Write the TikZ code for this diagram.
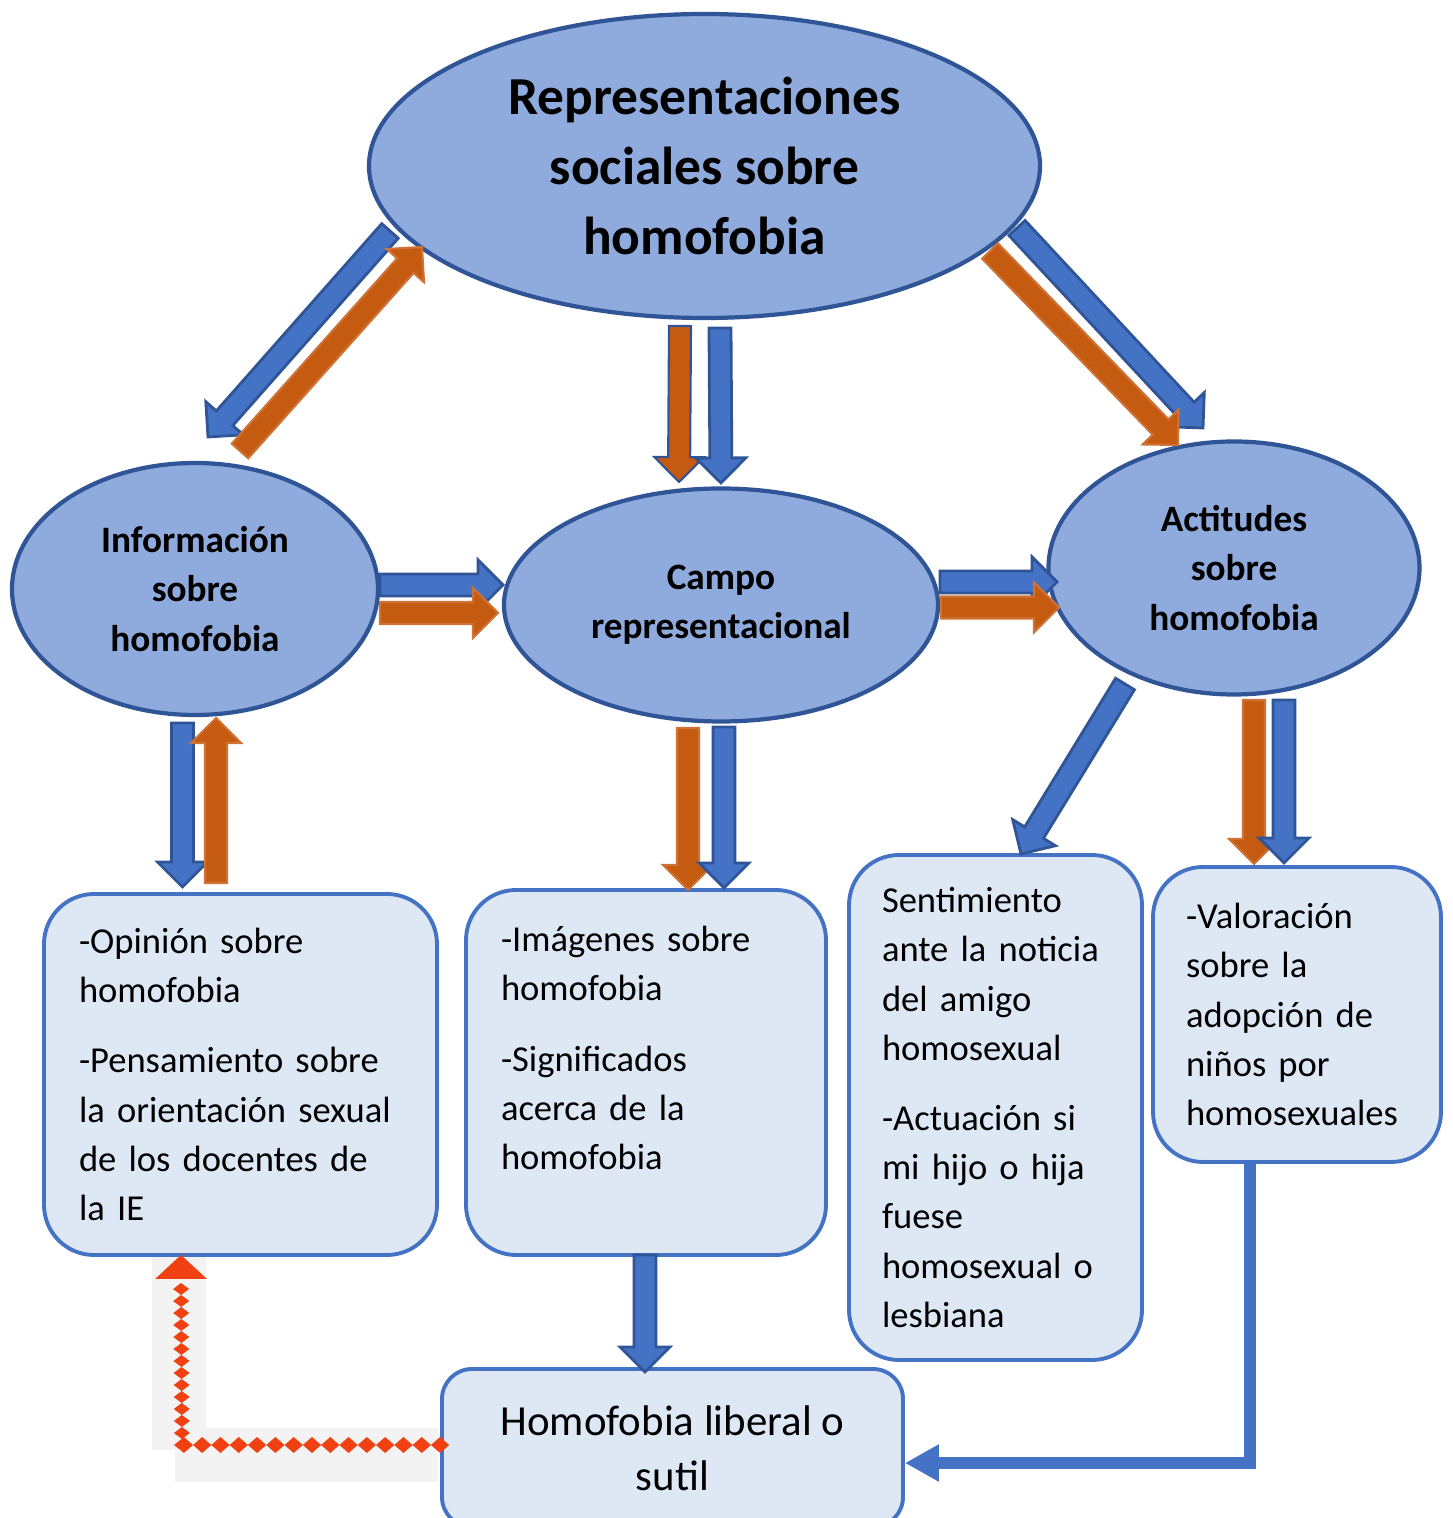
\documentclass[tikz,border=0pt]{standalone}
\usepackage{fontspec}
\setmainfont{Carlito}
\usetikzlibrary{calc,shapes.geometric,arrows.meta,decorations.markings}

\definecolor{elfill}{HTML}{8FAADC}
\definecolor{eldraw}{HTML}{2F5597}
\definecolor{boxfill}{HTML}{DEE8F5}
\definecolor{boxdraw}{HTML}{4472C4}
\definecolor{arrblue}{HTML}{4472C4}
\definecolor{arrorange}{HTML}{C55A11}
\definecolor{diamred}{HTML}{F14011}
\definecolor{stripgrey}{HTML}{F3F3F3}

% block arrow: style, from, to
\newcommand{\fatarrow}[3]{%
  \coordinate (fa-base) at ($(#3)!0.25cm!(#2)$);
  \filldraw[#1] ($(#2)!0.11cm!90:(#3)$) -- ($(fa-base)!0.11cm!90:(#3)$)
    -- ($(fa-base)!0.25cm!90:(#3)$) -- (#3)
    -- ($(fa-base)!0.25cm!-90:(#3)$) -- ($(fa-base)!0.11cm!-90:(#3)$)
    -- ($(#2)!0.11cm!-90:(#3)$) -- cycle;
}

\begin{document}
\begin{tikzpicture}[
  ell/.style={ellipse, draw=eldraw, fill=elfill, line width=1.2pt, inner sep=0pt,
    align=center, font=\bfseries\fontsize{10.6}{14}\selectfont},
  txtbox/.style={rectangle, rounded corners=0.5cm, draw=boxdraw, fill=boxfill,
    line width=1.1pt, align=left, inner xsep=0.35cm, font=\fontsize{10.4}{14}\selectfont},
  bluearr/.style={fill=arrblue, draw=eldraw, line width=0.8pt},
  orangearr/.style={fill=arrorange, draw=arrorange!85!white, line width=0.6pt},
  diamondsh/.style={decoration={markings, mark=between positions 0 and 1 step 0.183cm with
    {\fill[diamred] (-0.0915,0) -- (0,0.08) -- (0.0915,0) -- (0,-0.08) -- cycle;}}, decorate},
  diamondsv/.style={decoration={markings, mark=between positions 0 and 1 step 0.12cm with
    {\fill[diamred] (-0.06,0) -- (0,0.08) -- (0.06,0) -- (0,-0.08) -- cycle;}}, decorate}
]
\useasboundingbox (0,0) rectangle (14.53,15.18);

% grey strips behind the red connector
\fill[stripgrey] (1.52,0.68) rectangle (2.06,2.66);
\fill[stripgrey] (1.75,0.36) rectangle (4.38,0.90);

% ellipses
\node[ell, minimum width=6.71cm, minimum height=3.04cm, font=\bfseries\fontsize{15.2}{20}\selectfont] (rep) at (7.045,13.52) {Representaciones\\sociales sobre\\homofobia};
\node[ell, minimum width=3.66cm, minimum height=2.52cm] (info) at (1.95,9.29) {Información\\sobre\\homofobia};
\node[ell, minimum width=4.34cm, minimum height=2.33cm] (campo) at (7.21,9.13) {Campo\\representacional};
\node[ell, minimum width=3.71cm, minimum height=2.53cm] (acti) at (12.34,9.50) {Actitudes\\sobre\\homofobia};

% boxes
\node[txtbox, text width=3.23cm, minimum height=3.61cm] (opin) at (2.405,4.435) {-Opinión sobre\\homofobia\\[6pt]-Pensamiento sobre\\la orientación sexual\\de los docentes de\\la IE};
\node[txtbox, text width=2.90cm, minimum height=3.65cm] (imag) at (6.46,4.455) {-Imágenes sobre\\homofobia\\[6pt]-Significados\\acerca de la\\homofobia\\ \mbox{}};
\node[txtbox, inner xsep=0.33cm, text width=2.27cm, minimum height=5.05cm] (senti) at (9.955,4.105) {Sentimiento\\ante la noticia\\del amigo\\homosexual\\[6pt]-Actuación si\\mi hijo o hija\\fuese\\homosexual o\\lesbiana};
\node[txtbox, inner xsep=0.33cm, text width=2.22cm, minimum height=2.95cm] (valor) at (12.97,5.035) {-Valoración\\sobre la\\adopción de\\niños por\\homosexuales};
\node[draw=boxdraw, fill=boxfill, rounded corners=0.3cm, line width=1.1pt, minimum width=4.61cm, minimum height=1.58cm,
  align=center, font=\fontsize{12.2}{15.7}\selectfont] (liberal) at (6.725,0.70) {Homofobia liberal o\\sutil};

% arrow ends
\coordinate (rep-info-a) at (3.90,12.87);   \coordinate (rep-info-b) at (2.08,10.81);
\coordinate (info-rep-a) at (2.40,10.67);   \coordinate (info-rep-b) at (4.22,12.71);
\coordinate (rep-campo-a) at (6.80,11.92);  \coordinate (rep-campo-b) at (6.79,10.36);
\coordinate (rep-campo-c) at (7.20,11.90);  \coordinate (rep-campo-d) at (7.21,10.35);
\coordinate (rep-acti-a) at (10.17,12.90);  \coordinate (rep-acti-b) at (12.03,10.90);
\coordinate (rep-acti-c) at (9.90,12.67);   \coordinate (rep-acti-d) at (11.78,10.73);
\coordinate (info-campo-a) at (3.80,9.33);  \coordinate (info-campo-b) at (5.03,9.33);
\coordinate (info-campo-c) at (3.80,9.05);  \coordinate (info-campo-d) at (4.98,9.05);
\coordinate (campo-acti-a) at (9.40,9.36);  \coordinate (campo-acti-b) at (10.57,9.36);
\coordinate (campo-acti-c) at (9.41,9.105); \coordinate (campo-acti-d) at (10.59,9.105);
\coordinate (info-opin-a) at (1.825,7.95);  \coordinate (info-opin-b) at (1.825,6.31);
\coordinate (opin-info-a) at (2.16,6.35);   \coordinate (opin-info-b) at (2.16,8.00);
\coordinate (campo-imag-a) at (6.88,7.90);  \coordinate (campo-imag-b) at (6.88,6.28);
\coordinate (campo-imag-c) at (7.24,7.91);  \coordinate (campo-imag-d) at (7.24,6.30);
\coordinate (acti-senti-a) at (11.25,8.34); \coordinate (acti-senti-b) at (10.21,6.64);
\coordinate (acti-valor-a) at (12.54,8.18); \coordinate (acti-valor-b) at (12.54,6.54);
\coordinate (acti-valor-c) at (12.84,8.18); \coordinate (acti-valor-d) at (12.84,6.55);
\coordinate (imag-lib-a) at (6.45,2.63);    \coordinate (imag-lib-b) at (6.45,1.46);

% block arrows
\fatarrow{bluearr}{rep-info-a}{rep-info-b}
\fatarrow{orangearr}{info-rep-a}{info-rep-b}
\fatarrow{orangearr,draw=eldraw}{rep-campo-a}{rep-campo-b}
\fatarrow{bluearr}{rep-campo-c}{rep-campo-d}
\fatarrow{bluearr}{rep-acti-a}{rep-acti-b}
\fatarrow{orangearr}{rep-acti-c}{rep-acti-d}
\fatarrow{bluearr}{info-campo-a}{info-campo-b}
\fatarrow{orangearr}{info-campo-c}{info-campo-d}
\fatarrow{bluearr}{campo-acti-a}{campo-acti-b}
\fatarrow{orangearr}{campo-acti-c}{campo-acti-d}
\fatarrow{bluearr}{info-opin-a}{info-opin-b}
\fatarrow{orangearr}{opin-info-a}{opin-info-b}
\fatarrow{orangearr}{campo-imag-a}{campo-imag-b}
\fatarrow{bluearr}{campo-imag-c}{campo-imag-d}
\fatarrow{bluearr}{acti-senti-a}{acti-senti-b}
\fatarrow{orangearr}{acti-valor-a}{acti-valor-b}
\fatarrow{bluearr}{acti-valor-c}{acti-valor-d}
\fatarrow{bluearr}{imag-lib-a}{imag-lib-b}

% valoracion -> homofobia liberal
\coordinate (lbend) at (12.50,0.55);
\draw[arrblue, line width=3.4pt, -{Triangle[length=0.34cm,width=0.35cm]}]
  (valor.south -| lbend) -- (lbend) -- (liberal.east |- lbend);

% red diamond connector
\coordinate (dcorner) at (1.82,0.73);
\coordinate (dhead) at (1.81,2.63);
\path[diamondsh] (liberal.west |- dcorner) -- (dcorner);
\path[diamondsv] (dcorner) -- (1.81,2.39);
\fill[diamred] ($(dhead)+(-0.26,-0.24)$) -- (dhead) -- ($(dhead)+(0.26,-0.24)$) -- cycle;
\end{tikzpicture}
\end{document}
